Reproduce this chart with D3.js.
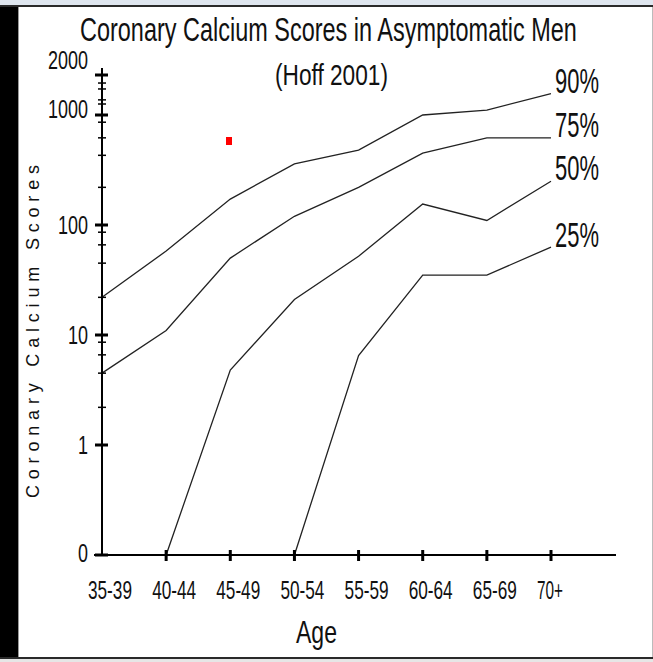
<!DOCTYPE html>
<html>
<head>
<meta charset="utf-8">
<script src="https://cdn.jsdelivr.net/npm/d3@7"></script>
<style>
  html, body { margin: 0; padding: 0; background: #fff; }
  svg { display: block; }
  text { fill: #111; }
</style>
</head>
<body>
<script>
// age groups on the x axis
const ages = ['35-39', '40-44', '45-49', '50-54', '55-59', '60-64', '65-69', '70+'];

// percentile curves (calcium score), 0 = none
const p90 = [22, 58, 172, 360, 480, 1000, 1090, 1450];
const p75 = [4.5, 11, 50, 120, 220, 450, 620, 620];
const p50 = [0, 0, 4.8, 21, 52, 155, 110, 250];
const p25 = [0, 0, 0, 0, 6.5, 35, 35, 63];

const seriesNames = ['90%', '75%', '50%', '25%'];
const yMajor = [0, 1, 10, 100, 1000, 2000];
const yMinor = [2.2, 4.5, 6.6, 8.6, 22, 45, 66, 86, 220, 430, 620, 860, 1210, 1300, 1570, 1740];

const W = 653, H = 662;
const font = '"Liberation Sans Narrow", "Liberation Sans", Arial, sans-serif';

const svg = d3.select('body').append('svg')
    .attr('width', W).attr('height', H);

// squeeze a text into a given box: left edge x, baseline y, width w
function fit(sel, x0, y0, w) {
    sel.each(function(d, i) {
        const t = d3.select(this),
              nat = this.getComputedTextLength(),
              px = typeof x0 === 'function' ? x0(d, i) : x0,
              py = typeof y0 === 'function' ? y0(d, i) : y0,
              pw = typeof w === 'function' ? w(d, i) : w;
        t.attr('x', 0).attr('y', 0)
         .attr('transform', `translate(${px},${py}) scale(${pw / nat},1)`);
    });
    return sel;
}

// window frame
svg.append('rect').attr('x', 0).attr('y', 0).attr('width', W).attr('height', 6).attr('fill', '#dfe6ef');
svg.append('rect').attr('x', 0).attr('y', 5).attr('width', W).attr('height', 2).attr('fill', '#2a2a2a');
svg.append('rect').attr('x', 0).attr('y', 7).attr('width', 18).attr('height', 650).attr('fill', '#000');
svg.append('rect').attr('x', 18).attr('y', 7).attr('width', 1).attr('height', 650).attr('fill', '#999');
svg.append('rect').attr('x', 0).attr('y', 657).attr('width', W).attr('height', 2).attr('fill', '#2a2a2a');
svg.append('rect').attr('x', 0).attr('y', 659).attr('width', W).attr('height', 3).attr('fill', '#e6e6e6');
svg.append('rect').attr('x', W - 1).attr('y', 7).attr('width', 1).attr('height', 650).attr('fill', '#bbb');

const x = d3.scalePoint().domain(ages).range([102, 551]);
// log axis, "0" sits one decade below 1; top segment is drawn a bit stretched
const yLog = d3.scaleLog().domain([0.1, 1000, 2000]).range([555, 115, 75]);
const y = v => yLog(Math.max(v, 0.1));

// lines
const line = d3.line()
    .x((d, i) => x(ages[i]))
    .y(d => y(d));

const series = [p90, p75, p50, p25];
svg.append('g').selectAll('path')
    .data(series)
    .join('path')
    .attr('d', line)
    .attr('fill', 'none')
    .attr('stroke', '#222')
    .attr('stroke-width', 1.3);

// y axis
const yAxis = svg.append('g');
yAxis.append('line')
    .attr('x1', 102).attr('x2', 102)
    .attr('y1', 68).attr('y2', 556)
    .attr('stroke', '#000').attr('stroke-width', 2);
yAxis.selectAll('line.minor')
    .data(yMinor)
    .join('line')
    .attr('class', 'minor')
    .attr('x1', 98).attr('x2', 106)
    .attr('y1', d => y(d)).attr('y2', d => y(d))
    .attr('stroke', '#000').attr('stroke-width', 1.5);
yAxis.selectAll('line.major')
    .data(yMajor)
    .join('line')
    .attr('class', 'major')
    .attr('x1', 95).attr('x2', 108)
    .attr('y1', d => y(d)).attr('y2', d => y(d))
    .attr('stroke', '#000').attr('stroke-width', 3);

const yLabelY = {0: 553, 1: 445, 10: 335, 100: 225, 1000: 109, 2000: 60};
const yLabW = d => String(d).length * 10;
fit(yAxis.selectAll('text')
    .data(yMajor)
    .join('text')
    .attr('font-family', font)
    .attr('font-size', 26)
    .text(d => d),
    d => 88 - yLabW(d), d => yLabelY[d] + 9, yLabW);

// x axis
const xAxis = svg.append('g');
xAxis.append('line')
    .attr('x1', 94).attr('x2', 616)
    .attr('y1', 555).attr('y2', 555)
    .attr('stroke', '#000').attr('stroke-width', 2);
xAxis.selectAll('line.tick')
    .data(ages.slice(1))
    .join('line')
    .attr('class', 'tick')
    .attr('x1', d => x(d)).attr('x2', d => x(d))
    .attr('y1', 550).attr('y2', 561)
    .attr('stroke', '#000').attr('stroke-width', 3);
fit(xAxis.selectAll('text')
    .data(ages)
    .join('text')
    .attr('font-family', font)
    .attr('font-size', 25)
    .text(d => d),
    d => x(d) - 14, 599, d => d.length === 3 ? 26 : 44);

// series labels at the right end
const labelBase = [93, 137, 180, 247];
fit(svg.append('g').selectAll('text')
    .data(seriesNames)
    .join('text')
    .attr('font-family', font)
    .attr('font-size', 36)
    .text(d => d),
    555, (d, i) => labelBase[i], 44);

// titles
fit(svg.append('text')
    .attr('font-family', font)
    .attr('font-size', 33)
    .text('Coronary Calcium Scores in Asymptomatic Men'), 80, 41, 497);
fit(svg.append('text')
    .attr('font-family', font)
    .attr('font-size', 30)
    .text('(Hoff 2001)'), 275, 85, 113);
fit(svg.append('text')
    .attr('font-family', font)
    .attr('font-size', 31)
    .text('Age'), 296, 643, 41);
svg.append('text')
    .attr('transform', 'translate(39,498) rotate(-90)')
    .attr('font-family', '"Liberation Sans", Arial, sans-serif')
    .attr('font-size', 18)
    .attr('textLength', 333)
    .attr('lengthAdjust', 'spacing')
    .text('Coronary Calcium Scores');

// small red marker left on the slide
svg.append('rect')
    .attr('x', 226).attr('y', 137)
    .attr('width', 6).attr('height', 8)
    .attr('fill', '#f00');
</script>
</body>
</html>
